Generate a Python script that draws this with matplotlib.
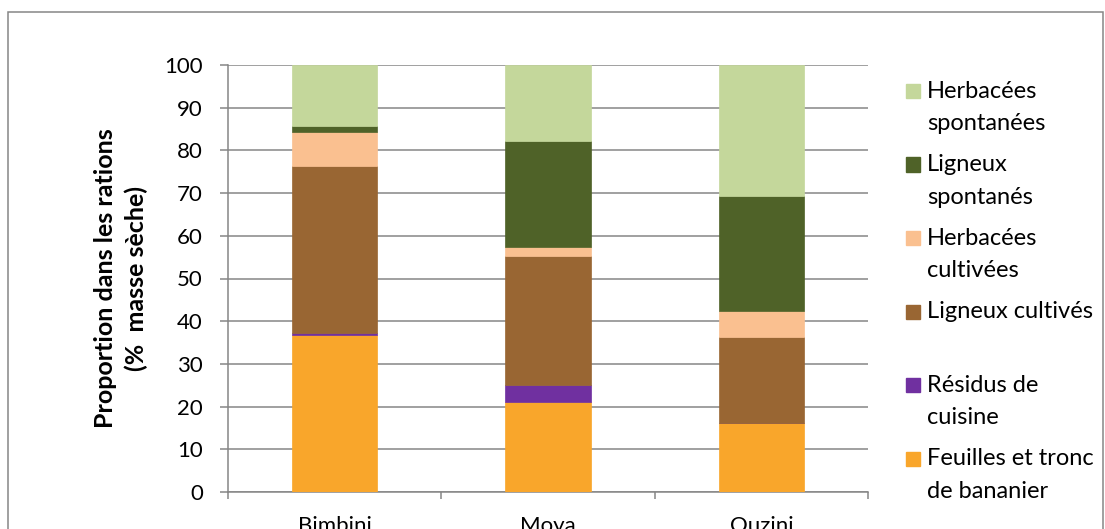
import numpy as np
import matplotlib
matplotlib.use("Agg")
import matplotlib.pyplot as plt
from matplotlib.patches import Rectangle

plt.rcParams['font.family'] = ['Lato', 'DejaVu Sans']

# data (% dry matter)
villages = ['Bimbini', 'Moya', 'Ouzini']
feuilles = [36.7, 21.1, 16.1]
residus = [0.6, 3.9, 0.0]
lig_cult = [39.0, 30.2, 20.2]
herb_cult = [7.9, 2.1, 6.1]
lig_spont = [1.4, 24.8, 27.0]
herb_spont = [14.4, 17.9, 30.6]

series = [feuilles, residus, lig_cult, herb_cult, lig_spont, herb_spont]
labels = ['Feuilles et tronc\nde bananier', 'Résidus de\ncuisine', 'Ligneux cultivés',
          'Herbacées\ncultivées', 'Ligneux\nspontanés', 'Herbacées\nspontanées']
colors = ['#F9A62B', '#7030A0', '#996633', '#FAC090', '#4F6228', '#C4D79B']

W, H = 1105, 529
grey = '#868686'
fig = plt.figure(figsize=(W / 100, H / 100), dpi=100)
ax = fig.add_axes([228 / W, 1 - 492 / H, 640 / W, 427 / H])

x = np.arange(len(villages))
bottom = np.zeros(len(villages))
for vals, c in zip(series, colors):
    ax.bar(x, vals, 0.4, bottom=bottom, color=c, edgecolor=c, linewidth=0.5, zorder=3)
    bottom += np.array(vals)

ax.set_ylim(0, 100)
ax.set_xlim(-0.5, 2.5)
ax.set_yticks(np.arange(0, 101, 10))
ax.yaxis.grid(True, color=grey, linewidth=1.1, zorder=0)
ax.set_xticks(x)
ax.set_xticklabels(villages)
ax.set_xticks([-0.5, 0.5, 1.5, 2.5], minor=True)
ax.tick_params(axis='x', which='major', length=0, pad=17, labelsize=16)
ax.tick_params(axis='x', which='minor', length=5, color=grey, width=1.1)
ax.tick_params(axis='y', length=6, color=grey, width=1.1, pad=12, labelsize=16)
for s in ['top', 'right']:
    ax.spines[s].set_visible(False)
for s in ['left', 'bottom']:
    ax.spines[s].set_color(grey)
    ax.spines[s].set_linewidth(1.1)

ax.set_ylabel('Proportion dans les rations\n(%  masse sèche)', fontsize=18,
              fontweight='bold', labelpad=12, linespacing=1.35)

# legend, top entry first, square level with the first line
for i, (lab, c) in enumerate(zip(labels[::-1], colors[::-1])):
    y0 = 91 + i * 73.5
    fig.add_artist(Rectangle((906 / W, 1 - (y0 + 7) / H), 14 / W, 14 / H,
                             transform=fig.transFigure, color=c))
    for j, line in enumerate(lab.split('\n')):
        fig.text(927 / W, 1 - (y0 + j * 32.5) / H, line, fontsize=17, va='center')

# outer frame of the chart
fig.add_artist(Rectangle((8 / W, -0.05), 1095 / W, 1 - 12 / H + 0.05,
                         transform=fig.transFigure, fill=False, edgecolor=grey, linewidth=1.1))

fig.savefig('out.png', dpi=100)
